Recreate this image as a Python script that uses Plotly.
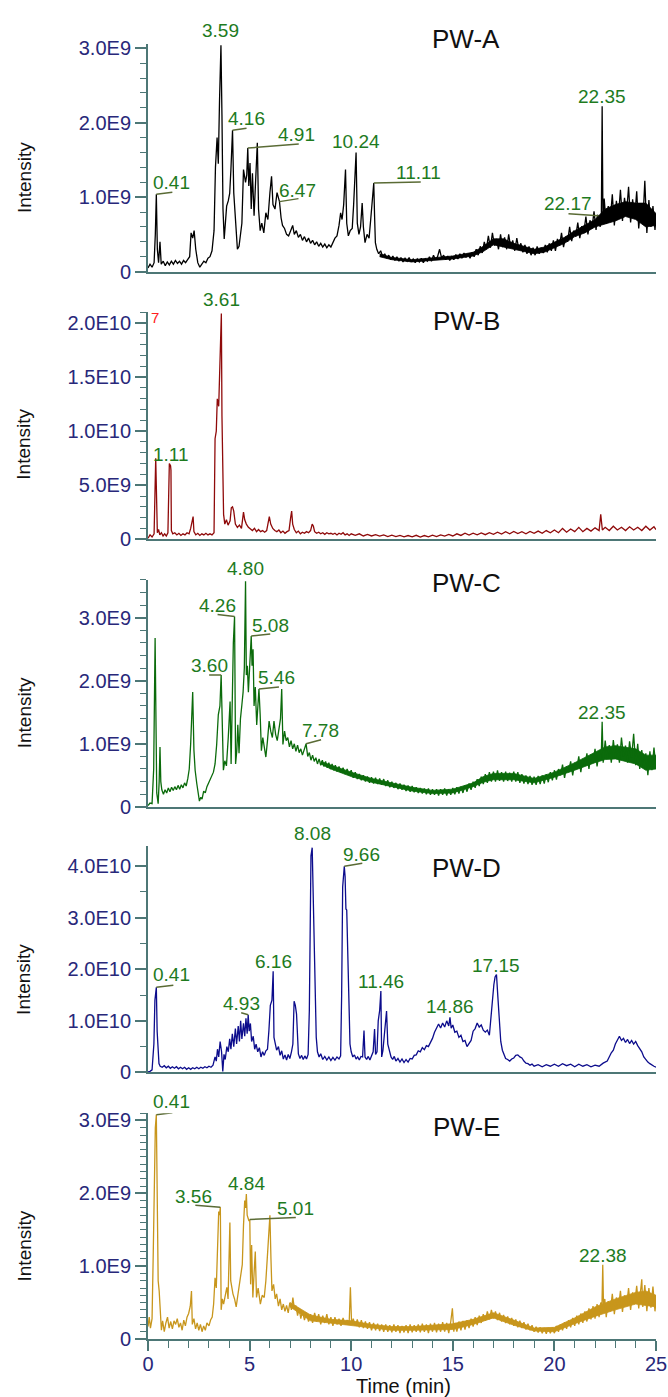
import plotly.graph_objects as go

FONT = "Liberation Sans, Arial, Helvetica, sans-serif"
AXIS_COLOR = "#4d7776"
TICK_COLOR = "#28287a"
LABEL_COLOR = "#1e7b1e"
LEADER_COLOR = "#5a6b35"

# ---------------- data (time in min, intensity in panel units) ----------------
panel_names = ["PW-A", "PW-B", "PW-C", "PW-D", "PW-E"]
panel_units = [1e9, 1e9, 1e9, 1e10, 1e9]
line_colors = ["#000000", "#8f0a0a", "#0b6b0b", "#0c0c8c", "#c8961c"]

points_A = [
    (0.00, 0.05), (0.10, 0.10), (0.20, 0.06), (0.30, 0.12), (0.36, 0.50), (0.41, 1.04), (0.46, 0.30), (0.52, 0.12),
    (0.59, 0.40), (0.65, 0.10), (0.75, 0.14), (0.85, 0.08), (0.95, 0.13), (1.05, 0.09), (1.15, 0.14), (1.25, 0.10),
    (1.35, 0.15), (1.45, 0.11), (1.55, 0.14), (1.65, 0.10), (1.75, 0.15), (1.85, 0.12), (1.95, 0.16), (2.05, 0.20),
    (2.12, 0.52), (2.20, 0.45), (2.27, 0.55), (2.35, 0.30), (2.45, 0.12), (2.55, 0.06), (2.65, 0.10), (2.75, 0.14),
    (2.85, 0.12), (2.95, 0.18), (3.05, 0.20), (3.15, 0.28), (3.25, 0.55), (3.32, 1.40), (3.40, 1.80), (3.46, 1.45),
    (3.52, 2.30), (3.59, 3.04), (3.64, 2.10), (3.69, 0.84), (3.75, 0.44), (3.80, 0.70), (3.87, 0.88), (3.95, 0.95),
    (4.02, 1.05), (4.08, 1.37), (4.16, 1.90), (4.22, 1.06), (4.28, 0.84), (4.34, 0.55), (4.40, 0.30), (4.48, 0.34),
    (4.55, 0.48), (4.62, 0.65), (4.70, 1.37), (4.80, 1.20), (4.86, 1.30), (4.91, 1.66), (4.96, 1.15), (5.02, 1.46),
    (5.08, 0.84), (5.14, 1.32), (5.22, 0.75), (5.30, 1.20), (5.38, 1.73), (5.44, 0.84), (5.52, 0.55), (5.60, 0.65),
    (5.70, 0.52), (5.80, 0.79), (5.90, 0.70), (6.00, 1.06), (6.08, 1.28), (6.15, 0.90), (6.25, 0.84), (6.35, 1.06),
    (6.47, 0.94), (6.55, 0.72), (6.62, 0.62), (6.72, 0.58), (6.82, 0.50), (6.92, 0.48), (7.02, 0.55), (7.12, 0.62),
    (7.20, 0.50), (7.30, 0.55), (7.40, 0.46), (7.50, 0.50), (7.60, 0.42), (7.70, 0.47), (7.80, 0.40), (7.90, 0.45),
    (8.00, 0.38), (8.10, 0.42), (8.20, 0.36), (8.30, 0.40), (8.40, 0.34), (8.50, 0.38), (8.60, 0.33), (8.70, 0.37),
    (8.80, 0.32), (8.90, 0.36), (9.00, 0.33), (9.10, 0.40), (9.20, 0.45), (9.30, 0.48), (9.40, 0.62), (9.48, 0.79),
    (9.55, 0.70), (9.63, 0.90), (9.72, 1.37), (9.78, 0.65), (9.86, 0.48), (9.95, 0.55), (10.05, 0.58), (10.12, 0.90),
    (10.19, 1.30), (10.24, 1.60), (10.30, 0.65), (10.38, 0.50), (10.46, 0.60), (10.54, 0.92), (10.60, 0.60), (10.68, 0.39),
    (10.78, 0.50), (10.88, 0.45), (10.96, 0.70), (11.03, 1.00), (11.11, 1.19), (11.15, 0.75), (11.19, 0.39), (11.26, 0.30),
    (11.35, 0.24), (11.45, 0.28), (11.55, 0.20), (11.65, 0.24), (11.75, 0.18), (11.85, 0.22), (11.95, 0.16), (12.05, 0.21),
    (12.15, 0.15), (12.25, 0.20), (12.35, 0.14), (12.45, 0.19), (12.55, 0.13), (12.65, 0.18), (12.75, 0.14), (12.85, 0.19),
    (12.95, 0.13), (13.05, 0.17), (13.15, 0.12), (13.25, 0.17), (13.35, 0.13), (13.45, 0.18), (13.55, 0.12), (13.65, 0.17),
    (13.75, 0.14), (13.85, 0.20), (13.95, 0.14), (14.05, 0.22), (14.15, 0.16), (14.25, 0.20), (14.35, 0.30), (14.45, 0.18),
    (14.55, 0.22), (14.65, 0.16), (14.75, 0.21), (14.85, 0.15), (14.95, 0.20), (15.05, 0.16), (15.15, 0.23), (15.25, 0.17),
    (15.35, 0.24), (15.45, 0.18), (15.55, 0.25), (15.65, 0.19), (15.75, 0.24), (15.85, 0.18), (15.95, 0.26), (16.05, 0.20),
    (16.15, 0.30), (16.25, 0.22), (16.35, 0.34), (16.45, 0.25), (16.55, 0.40), (16.65, 0.30), (16.75, 0.48), (16.85, 0.32),
    (16.95, 0.52), (17.05, 0.35), (17.15, 0.44), (17.25, 0.30), (17.35, 0.50), (17.45, 0.33), (17.55, 0.46), (17.65, 0.30),
    (17.75, 0.50), (17.85, 0.32), (17.95, 0.42), (18.05, 0.28), (18.15, 0.45), (18.25, 0.30), (18.35, 0.38), (18.45, 0.26),
    (18.55, 0.36), (18.65, 0.24), (18.75, 0.34), (18.85, 0.22), (18.95, 0.32), (19.05, 0.22), (19.15, 0.34), (19.25, 0.24),
    (19.35, 0.32), (19.45, 0.25), (19.55, 0.36), (19.65, 0.26), (19.75, 0.38), (19.85, 0.28), (19.95, 0.42), (20.05, 0.28),
    (20.15, 0.44), (20.25, 0.35), (20.35, 0.52), (20.45, 0.33), (20.55, 0.47), (20.65, 0.40), (20.75, 0.60), (20.85, 0.41),
    (20.95, 0.55), (21.05, 0.47), (21.15, 0.66), (21.25, 0.45), (21.35, 0.61), (21.45, 0.53), (21.55, 0.74), (21.65, 0.50),
    (21.75, 0.69), (21.85, 0.58), (21.95, 0.81), (22.05, 0.56), (22.12, 0.76), (22.17, 0.75), (22.25, 0.60), (22.31, 0.72),
    (22.35, 2.22), (22.39, 0.66), (22.45, 0.98), (22.55, 0.64), (22.65, 0.88), (22.75, 0.70), (22.85, 1.04), (22.95, 0.62),
    (23.05, 0.95), (23.15, 0.74), (23.25, 1.10), (23.35, 0.68), (23.45, 0.99), (23.55, 0.78), (23.65, 1.14), (23.75, 0.66),
    (23.85, 0.97), (23.95, 0.72), (24.05, 1.08), (24.15, 0.58), (24.25, 0.90), (24.35, 0.64), (24.45, 1.22), (24.55, 0.52),
    (24.65, 0.96), (24.75, 0.60), (24.85, 0.88), (24.95, 0.56), (25.00, 0.72),
]

points_B = [
    (0.00, 0.10), (0.10, 0.40), (0.20, 0.20), (0.30, 0.50), (0.34, 4.00), (0.38, 7.50), (0.42, 4.00), (0.46, 0.60),
    (0.52, 0.90), (0.58, 0.40), (0.66, 0.60), (0.74, 0.30), (0.82, 0.50), (0.90, 0.30), (0.98, 0.60), (1.02, 5.50),
    (1.05, 7.00), (1.11, 6.80), (1.13, 6.40), (1.15, 0.80), (1.22, 0.50), (1.32, 0.60), (1.42, 0.40), (1.52, 0.55),
    (1.62, 0.35), (1.72, 0.50), (1.82, 0.40), (1.92, 0.60), (2.02, 0.50), (2.10, 1.00), (2.15, 1.40), (2.22, 2.10),
    (2.26, 0.70), (2.35, 0.40), (2.45, 0.55), (2.55, 0.35), (2.65, 0.50), (2.75, 0.40), (2.85, 0.55), (2.95, 0.40),
    (3.05, 0.50), (3.15, 0.40), (3.25, 0.60), (3.30, 9.30), (3.36, 10.0), (3.41, 13.0), (3.48, 12.3), (3.55, 17.0),
    (3.61, 20.9), (3.64, 11.4), (3.68, 3.80), (3.72, 2.30), (3.78, 1.40), (3.86, 1.80), (3.94, 1.30), (4.04, 1.70),
    (4.10, 2.90), (4.16, 3.00), (4.22, 2.60), (4.30, 1.40), (4.40, 1.10), (4.50, 1.30), (4.60, 1.00), (4.70, 2.50),
    (4.76, 1.80), (4.84, 1.40), (4.94, 1.10), (5.04, 0.90), (5.14, 0.80), (5.24, 1.00), (5.34, 0.70), (5.44, 0.90),
    (5.54, 0.70), (5.64, 0.80), (5.74, 0.65), (5.84, 0.80), (5.92, 1.50), (5.97, 2.10), (6.04, 1.40), (6.14, 1.00),
    (6.24, 0.80), (6.34, 0.70), (6.44, 0.85), (6.54, 0.60), (6.64, 0.75), (6.74, 0.55), (6.84, 0.70), (6.94, 0.80),
    (7.02, 2.00), (7.07, 2.60), (7.12, 1.40), (7.20, 0.90), (7.30, 0.60), (7.40, 0.75), (7.50, 0.50), (7.60, 0.65),
    (7.70, 0.55), (7.80, 0.70), (7.90, 0.60), (8.00, 0.80), (8.08, 1.40), (8.14, 1.20), (8.20, 0.70), (8.30, 0.55),
    (8.40, 0.65), (8.50, 0.50), (8.60, 0.60), (8.70, 0.45), (8.80, 0.60), (8.90, 0.50), (9.00, 0.55), (9.10, 0.45),
    (9.20, 0.55), (9.30, 0.40), (9.40, 0.55), (9.50, 0.45), (9.60, 0.60), (9.70, 0.40), (9.80, 0.50), (9.90, 0.35),
    (10.0, 0.50), (10.2, 0.35), (10.4, 0.50), (10.6, 0.30), (10.8, 0.45), (11.0, 0.30), (11.2, 0.42), (11.4, 0.28),
    (11.6, 0.40), (11.8, 0.25), (12.0, 0.38), (12.2, 0.25), (12.4, 0.36), (12.6, 0.22), (12.8, 0.34), (13.0, 0.22),
    (13.2, 0.36), (13.4, 0.20), (13.6, 0.34), (13.8, 0.22), (14.0, 0.38), (14.2, 0.25), (14.4, 0.40), (14.6, 0.28),
    (14.8, 0.45), (15.0, 0.30), (15.2, 0.50), (15.4, 0.35), (15.6, 0.55), (15.8, 0.38), (16.0, 0.55), (16.2, 0.40),
    (16.4, 0.58), (16.6, 0.42), (16.8, 0.60), (17.0, 0.45), (17.2, 0.65), (17.4, 0.48), (17.6, 0.70), (17.8, 0.50),
    (18.0, 0.72), (18.2, 0.52), (18.4, 0.70), (18.6, 0.50), (18.8, 0.72), (19.0, 0.55), (19.2, 0.75), (19.4, 0.55),
    (19.6, 0.80), (19.8, 0.60), (20.0, 0.85), (20.2, 0.60), (20.4, 1.00), (20.6, 0.65), (20.8, 0.95), (21.0, 0.70),
    (21.2, 1.10), (21.4, 0.70), (21.6, 1.00), (21.8, 0.75), (22.0, 1.05), (22.2, 0.80), (22.28, 2.30), (22.36, 0.85),
    (22.5, 1.10), (22.7, 0.80), (22.9, 1.20), (23.1, 0.85), (23.3, 1.10), (23.5, 0.80), (23.7, 1.15), (23.9, 0.85),
    (24.1, 1.10), (24.3, 0.80), (24.5, 1.20), (24.7, 0.85), (24.9, 1.15), (25.0, 0.90),
]

points_C = [
    (0.00, 0.02), (0.10, 0.06), (0.20, 0.05), (0.28, 0.60), (0.35, 2.68), (0.40, 1.00), (0.43, 0.22), (0.50, 0.05),
    (0.55, 0.40), (0.59, 0.95), (0.63, 0.40), (0.68, 0.27), (0.76, 0.20), (0.84, 0.27), (0.92, 0.22), (1.00, 0.30),
    (1.08, 0.24), (1.16, 0.31), (1.24, 0.26), (1.32, 0.32), (1.40, 0.27), (1.48, 0.34), (1.56, 0.28), (1.64, 0.35),
    (1.72, 0.30), (1.80, 0.38), (1.88, 0.33), (1.96, 0.45), (2.03, 0.60), (2.10, 1.00), (2.20, 1.82), (2.26, 0.90),
    (2.32, 0.58), (2.40, 0.37), (2.48, 0.20), (2.53, 0.09), (2.60, 0.15), (2.66, 0.12), (2.74, 0.25), (2.82, 0.22),
    (2.90, 0.32), (2.98, 0.38), (3.06, 0.42), (3.14, 0.50), (3.22, 0.55), (3.30, 0.68), (3.38, 0.99), (3.46, 1.46),
    (3.54, 1.60), (3.60, 2.09), (3.65, 1.20), (3.71, 0.58), (3.78, 0.73), (3.86, 0.65), (3.95, 1.10), (4.04, 1.67),
    (4.09, 0.68), (4.13, 1.50), (4.20, 2.60), (4.26, 3.02), (4.31, 0.68), (4.37, 0.89), (4.42, 1.30), (4.48, 0.85),
    (4.55, 1.40), (4.62, 1.62), (4.68, 1.82), (4.74, 2.20), (4.80, 3.58), (4.84, 2.09), (4.89, 2.24), (4.94, 1.82),
    (5.00, 2.30), (5.04, 2.50), (5.08, 2.71), (5.12, 2.24), (5.17, 2.50), (5.22, 1.60), (5.28, 1.90), (5.35, 1.30),
    (5.40, 1.60), (5.46, 1.87), (5.52, 1.46), (5.58, 0.89), (5.65, 1.10), (5.72, 0.95), (5.80, 0.79), (5.88, 1.05),
    (5.96, 1.36), (6.04, 1.20), (6.12, 1.10), (6.20, 1.36), (6.28, 1.15), (6.36, 1.05), (6.44, 1.25), (6.52, 1.40),
    (6.58, 1.87), (6.64, 0.99), (6.72, 1.20), (6.80, 1.05), (6.88, 1.10), (6.96, 0.95), (7.04, 1.05), (7.12, 0.92),
    (7.20, 1.00), (7.28, 0.88), (7.36, 0.98), (7.44, 0.86), (7.52, 0.92), (7.60, 0.82), (7.68, 0.90), (7.78, 1.00),
    (7.86, 0.80), (7.94, 0.86), (8.02, 0.74), (8.10, 0.82), (8.18, 0.72), (8.26, 0.78), (8.34, 0.68), (8.42, 0.76),
    (8.50, 0.66), (8.58, 0.74), (8.66, 0.64), (8.74, 0.72), (8.82, 0.62), (8.90, 0.70), (8.98, 0.60), (9.06, 0.68),
    (9.14, 0.58), (9.22, 0.66), (9.30, 0.56), (9.40, 0.64), (9.50, 0.54), (9.60, 0.62), (9.70, 0.52), (9.80, 0.60),
    (9.90, 0.50), (10.0, 0.58), (10.1, 0.46), (10.2, 0.55), (10.3, 0.44), (10.4, 0.52), (10.5, 0.42), (10.6, 0.50),
    (10.7, 0.40), (10.8, 0.48), (10.9, 0.38), (11.0, 0.47), (11.1, 0.37), (11.2, 0.46), (11.3, 0.36), (11.4, 0.45),
    (11.5, 0.35), (11.6, 0.44), (11.7, 0.33), (11.8, 0.42), (11.9, 0.31), (12.0, 0.40), (12.1, 0.30), (12.2, 0.38),
    (12.3, 0.28), (12.4, 0.37), (12.5, 0.27), (12.6, 0.35), (12.7, 0.25), (12.8, 0.34), (12.9, 0.24), (13.0, 0.33),
    (13.1, 0.23), (13.2, 0.31), (13.3, 0.22), (13.4, 0.30), (13.5, 0.21), (13.6, 0.29), (13.7, 0.20), (13.8, 0.29),
    (13.9, 0.19), (14.0, 0.28), (14.1, 0.19), (14.2, 0.28), (14.3, 0.18), (14.4, 0.28), (14.5, 0.19), (14.6, 0.29),
    (14.7, 0.18), (14.8, 0.28), (14.9, 0.19), (15.0, 0.30), (15.1, 0.20), (15.2, 0.31), (15.3, 0.21), (15.4, 0.32),
    (15.5, 0.22), (15.6, 0.34), (15.7, 0.24), (15.8, 0.37), (15.9, 0.27), (16.0, 0.40), (16.1, 0.30), (16.2, 0.44),
    (16.3, 0.33), (16.4, 0.48), (16.5, 0.36), (16.6, 0.52), (16.7, 0.38), (16.8, 0.55), (16.9, 0.40), (17.0, 0.56),
    (17.1, 0.40), (17.2, 0.58), (17.3, 0.41), (17.4, 0.55), (17.5, 0.40), (17.6, 0.56), (17.7, 0.41), (17.8, 0.54),
    (17.9, 0.40), (18.0, 0.56), (18.1, 0.40), (18.2, 0.55), (18.3, 0.38), (18.4, 0.52), (18.5, 0.37), (18.6, 0.50),
    (18.7, 0.36), (18.8, 0.49), (18.9, 0.35), (19.0, 0.48), (19.1, 0.35), (19.2, 0.49), (19.3, 0.36), (19.4, 0.50),
    (19.5, 0.37), (19.6, 0.52), (19.7, 0.39), (19.8, 0.55), (19.9, 0.42), (20.0, 0.58), (20.1, 0.43), (20.2, 0.60),
    (20.3, 0.50), (20.4, 0.67), (20.5, 0.46), (20.6, 0.64), (20.7, 0.55), (20.8, 0.72), (20.9, 0.50), (21.0, 0.70),
    (21.1, 0.60), (21.2, 0.80), (21.3, 0.55), (21.4, 0.76), (21.5, 0.65), (21.6, 0.85), (21.7, 0.60), (21.8, 0.83),
    (21.9, 0.70), (22.0, 0.92), (22.1, 0.64), (22.2, 0.88), (22.3, 0.74), (22.35, 1.35), (22.4, 0.70), (22.5, 1.05),
    (22.6, 0.76), (22.7, 0.98), (22.8, 0.70), (22.9, 1.06), (23.0, 0.78), (23.1, 0.99), (23.2, 0.70), (23.3, 1.10),
    (23.4, 0.80), (23.5, 0.97), (23.6, 0.70), (23.7, 1.04), (23.8, 0.78), (23.9, 1.16), (24.0, 0.66), (24.1, 1.00),
    (24.2, 0.60), (24.3, 0.90), (24.4, 0.62), (24.5, 0.85), (24.6, 0.50), (24.7, 0.88), (24.8, 0.58), (24.9, 0.94),
    (25.0, 0.62),
]

points_D = [
    (0.00, 0.01), (0.10, 0.02), (0.20, 0.05), (0.29, 0.55), (0.34, 1.40), (0.41, 1.65), (0.45, 0.80), (0.49, 0.43),
    (0.54, 0.17), (0.60, 0.12), (0.70, 0.10), (0.80, 0.13), (0.90, 0.09), (1.00, 0.12), (1.10, 0.08), (1.20, 0.11),
    (1.30, 0.08), (1.40, 0.11), (1.50, 0.07), (1.60, 0.10), (1.70, 0.07), (1.80, 0.10), (1.90, 0.06), (2.00, 0.09),
    (2.10, 0.06), (2.20, 0.09), (2.30, 0.07), (2.40, 0.10), (2.50, 0.07), (2.60, 0.10), (2.70, 0.08), (2.80, 0.11),
    (2.90, 0.09), (3.00, 0.12), (3.10, 0.10), (3.20, 0.14), (3.30, 0.30), (3.36, 0.22), (3.42, 0.45), (3.48, 0.30),
    (3.55, 0.60), (3.62, 0.40), (3.68, 0.02), (3.74, 0.35), (3.80, 0.25), (3.88, 0.50), (3.95, 0.40), (4.02, 0.65),
    (4.08, 0.45), (4.15, 0.75), (4.22, 0.50), (4.30, 0.85), (4.36, 0.55), (4.44, 0.90), (4.50, 0.60), (4.56, 1.00),
    (4.62, 0.65), (4.70, 0.95), (4.76, 0.70), (4.82, 1.05), (4.88, 0.75), (4.93, 1.12), (4.98, 0.80), (5.04, 0.95),
    (5.10, 0.60), (5.18, 0.70), (5.25, 0.45), (5.32, 0.55), (5.40, 0.40), (5.48, 0.48), (5.56, 0.30), (5.64, 0.40),
    (5.72, 0.33), (5.80, 0.42), (5.88, 0.45), (5.95, 0.81), (6.02, 1.30), (6.10, 1.40), (6.16, 1.96), (6.20, 0.68),
    (6.26, 0.55), (6.33, 0.43), (6.42, 0.50), (6.50, 0.33), (6.58, 0.42), (6.66, 0.26), (6.74, 0.34), (6.82, 0.24),
    (6.90, 0.35), (6.98, 0.27), (7.06, 0.40), (7.13, 0.55), (7.19, 1.38), (7.25, 1.30), (7.31, 1.13), (7.36, 0.60),
    (7.40, 0.36), (7.48, 0.27), (7.56, 0.33), (7.64, 0.25), (7.72, 0.32), (7.80, 0.26), (7.88, 0.35), (7.94, 1.20),
    (7.98, 2.47), (8.02, 4.20), (8.08, 4.36), (8.12, 3.40), (8.16, 3.10), (8.20, 2.15), (8.24, 1.40), (8.28, 0.68),
    (8.34, 0.40), (8.42, 0.30), (8.50, 0.36), (8.60, 0.25), (8.70, 0.31), (8.80, 0.24), (8.90, 0.30), (9.00, 0.23),
    (9.10, 0.29), (9.20, 0.24), (9.30, 0.30), (9.40, 0.26), (9.48, 0.32), (9.53, 1.50), (9.58, 3.60), (9.62, 3.90),
    (9.66, 4.00), (9.70, 3.80), (9.74, 3.17), (9.78, 3.15), (9.84, 2.09), (9.90, 1.00), (9.94, 0.55), (10.00, 0.40),
    (10.08, 0.30), (10.16, 0.34), (10.24, 0.26), (10.32, 0.30), (10.40, 0.24), (10.48, 0.31), (10.56, 0.30), (10.63, 0.81),
    (10.68, 0.30), (10.76, 0.25), (10.84, 0.31), (10.92, 0.24), (11.00, 0.32), (11.08, 0.40), (11.15, 0.84), (11.20, 0.35),
    (11.27, 0.40), (11.33, 1.00), (11.40, 1.20), (11.46, 1.58), (11.50, 0.30), (11.56, 0.42), (11.62, 0.68), (11.68, 0.90),
    (11.74, 1.19), (11.80, 0.55), (11.88, 0.40), (11.96, 0.30), (12.04, 0.25), (12.12, 0.31), (12.20, 0.22), (12.30, 0.27),
    (12.40, 0.20), (12.50, 0.26), (12.60, 0.19), (12.70, 0.25), (12.80, 0.20), (12.90, 0.27), (13.00, 0.26), (13.10, 0.33),
    (13.20, 0.34), (13.30, 0.42), (13.40, 0.40), (13.50, 0.48), (13.60, 0.44), (13.70, 0.52), (13.80, 0.50), (13.90, 0.58),
    (14.00, 0.66), (14.10, 0.78), (14.20, 0.85), (14.30, 0.94), (14.40, 0.86), (14.50, 0.96), (14.60, 0.88), (14.70, 1.00),
    (14.80, 0.90), (14.86, 1.07), (14.92, 0.86), (15.00, 0.92), (15.10, 0.78), (15.20, 0.80), (15.30, 0.68), (15.40, 0.72),
    (15.50, 0.60), (15.60, 0.62), (15.70, 0.50), (15.80, 0.55), (15.90, 0.62), (16.00, 0.80), (16.10, 0.85), (16.20, 0.96),
    (16.30, 0.88), (16.40, 0.92), (16.50, 0.82), (16.60, 0.78), (16.70, 0.82), (16.80, 0.72), (16.90, 1.20), (16.96, 1.58),
    (17.02, 1.70), (17.08, 1.85), (17.15, 1.90), (17.22, 1.45), (17.30, 0.90), (17.36, 0.60), (17.44, 0.43), (17.52, 0.33),
    (17.60, 0.27), (17.70, 0.25), (17.80, 0.22), (17.90, 0.26), (18.00, 0.28), (18.10, 0.33), (18.20, 0.34), (18.30, 0.30),
    (18.40, 0.28), (18.50, 0.22), (18.60, 0.18), (18.70, 0.17), (18.80, 0.14), (18.90, 0.16), (19.00, 0.12), (19.20, 0.15),
    (19.40, 0.11), (19.60, 0.15), (19.80, 0.12), (20.00, 0.16), (20.20, 0.12), (20.40, 0.17), (20.60, 0.13), (20.80, 0.16),
    (21.00, 0.11), (21.20, 0.16), (21.40, 0.12), (21.60, 0.15), (21.80, 0.11), (22.00, 0.14), (22.20, 0.12), (22.40, 0.18),
    (22.60, 0.22), (22.80, 0.38), (22.90, 0.43), (23.00, 0.55), (23.10, 0.62), (23.20, 0.70), (23.30, 0.62), (23.40, 0.66),
    (23.50, 0.58), (23.60, 0.64), (23.70, 0.56), (23.80, 0.62), (23.90, 0.55), (24.00, 0.60), (24.10, 0.52), (24.20, 0.46),
    (24.30, 0.40), (24.40, 0.30), (24.50, 0.24), (24.60, 0.20), (24.70, 0.17), (24.80, 0.14), (24.90, 0.12), (25.00, 0.10),
]

points_E = [
    (0.00, 0.17), (0.06, 0.30), (0.12, 0.15), (0.20, 0.28), (0.26, 1.20), (0.30, 2.10), (0.36, 2.90), (0.41, 3.08),
    (0.44, 2.00), (0.47, 1.20), (0.50, 0.80), (0.55, 0.66), (0.60, 0.30), (0.66, 0.12), (0.72, 0.25), (0.80, 0.10),
    (0.88, 0.22), (0.96, 0.30), (1.04, 0.15), (1.12, 0.24), (1.20, 0.14), (1.28, 0.25), (1.36, 0.20), (1.44, 0.28),
    (1.52, 0.16), (1.60, 0.22), (1.68, 0.12), (1.76, 0.26), (1.84, 0.18), (1.92, 0.30), (2.00, 0.35), (2.08, 0.45),
    (2.14, 0.66), (2.18, 0.20), (2.26, 0.28), (2.34, 0.14), (2.42, 0.22), (2.50, 0.12), (2.58, 0.20), (2.66, 0.10),
    (2.74, 0.18), (2.82, 0.12), (2.90, 0.22), (3.00, 0.18), (3.08, 0.26), (3.16, 0.30), (3.23, 0.48), (3.30, 0.84),
    (3.36, 0.70), (3.42, 1.11), (3.48, 1.75), (3.52, 1.70), (3.56, 1.81), (3.60, 0.40), (3.66, 0.55), (3.72, 0.48),
    (3.80, 0.60), (3.88, 0.71), (3.94, 0.55), (3.98, 1.00), (4.03, 1.60), (4.07, 0.80), (4.12, 0.71), (4.18, 0.62),
    (4.26, 0.55), (4.34, 0.44), (4.42, 0.60), (4.50, 0.75), (4.58, 0.90), (4.64, 1.02), (4.70, 1.56), (4.76, 1.90),
    (4.80, 1.80), (4.84, 1.99), (4.88, 1.70), (4.92, 1.65), (4.97, 1.62), (5.01, 1.64), (5.05, 0.75), (5.10, 1.29),
    (5.16, 0.57), (5.22, 0.90), (5.28, 1.20), (5.34, 0.57), (5.42, 0.70), (5.53, 0.48), (5.62, 0.60), (5.72, 0.57),
    (5.80, 0.80), (5.87, 1.11), (5.94, 1.40), (6.00, 1.70), (6.05, 1.11), (6.10, 0.66), (6.18, 0.75), (6.26, 0.55),
    (6.33, 0.62), (6.42, 0.45), (6.50, 0.55), (6.58, 0.40), (6.66, 0.48), (6.74, 0.38), (6.82, 0.46), (6.90, 0.36),
    (6.98, 0.50), (7.06, 0.40), (7.13, 0.57), (7.20, 0.42), (7.28, 0.46), (7.36, 0.32), (7.44, 0.42), (7.52, 0.28),
    (7.60, 0.38), (7.70, 0.26), (7.80, 0.36), (7.90, 0.24), (8.00, 0.34), (8.10, 0.22), (8.20, 0.36), (8.30, 0.24),
    (8.40, 0.34), (8.50, 0.20), (8.60, 0.32), (8.70, 0.22), (8.80, 0.34), (8.90, 0.20), (9.00, 0.30), (9.10, 0.18),
    (9.20, 0.30), (9.30, 0.20), (9.40, 0.28), (9.50, 0.18), (9.60, 0.29), (9.70, 0.20), (9.80, 0.26), (9.90, 0.22),
    (9.96, 0.71), (10.02, 0.20), (10.10, 0.28), (10.20, 0.18), (10.30, 0.27), (10.40, 0.16), (10.50, 0.26), (10.60, 0.15),
    (10.70, 0.24), (10.80, 0.14), (10.90, 0.23), (11.00, 0.12), (11.10, 0.22), (11.20, 0.12), (11.30, 0.21), (11.40, 0.11),
    (11.50, 0.20), (11.60, 0.10), (11.70, 0.20), (11.80, 0.10), (11.90, 0.19), (12.00, 0.09), (12.10, 0.20), (12.20, 0.10),
    (12.30, 0.19), (12.40, 0.08), (12.50, 0.18), (12.60, 0.09), (12.70, 0.19), (12.80, 0.08), (12.90, 0.20), (13.00, 0.09),
    (13.10, 0.19), (13.20, 0.10), (13.30, 0.20), (13.40, 0.09), (13.50, 0.21), (13.60, 0.10), (13.70, 0.20), (13.80, 0.08),
    (13.90, 0.21), (14.00, 0.10), (14.10, 0.22), (14.20, 0.09), (14.30, 0.21), (14.40, 0.10), (14.50, 0.23), (14.60, 0.10),
    (14.70, 0.22), (14.80, 0.08), (14.90, 0.24), (14.98, 0.42), (15.05, 0.10), (15.10, 0.22), (15.20, 0.10), (15.30, 0.24),
    (15.40, 0.12), (15.50, 0.25), (15.60, 0.13), (15.70, 0.26), (15.80, 0.15), (15.90, 0.28), (16.00, 0.17), (16.10, 0.30),
    (16.20, 0.19), (16.30, 0.32), (16.40, 0.22), (16.50, 0.34), (16.60, 0.25), (16.70, 0.38), (16.80, 0.27), (16.90, 0.40),
    (17.00, 0.28), (17.10, 0.38), (17.20, 0.26), (17.30, 0.36), (17.40, 0.24), (17.50, 0.33), (17.60, 0.22), (17.70, 0.31),
    (17.80, 0.20), (17.90, 0.29), (18.00, 0.18), (18.10, 0.27), (18.20, 0.16), (18.30, 0.25), (18.40, 0.15), (18.50, 0.23),
    (18.60, 0.13), (18.70, 0.21), (18.80, 0.12), (18.90, 0.19), (19.00, 0.10), (19.10, 0.17), (19.20, 0.09), (19.30, 0.16),
    (19.40, 0.08), (19.50, 0.15), (19.60, 0.07), (19.70, 0.15), (19.80, 0.08), (19.90, 0.16), (20.00, 0.08), (20.10, 0.18),
    (20.20, 0.10), (20.30, 0.20), (20.40, 0.12), (20.50, 0.23), (20.60, 0.14), (20.70, 0.26), (20.80, 0.16), (20.90, 0.29),
    (21.00, 0.18), (21.10, 0.32), (21.20, 0.20), (21.30, 0.35), (21.40, 0.22), (21.50, 0.38), (21.60, 0.24), (21.70, 0.42),
    (21.80, 0.27), (21.90, 0.45), (22.00, 0.28), (22.10, 0.48), (22.20, 0.30), (22.28, 0.50), (22.34, 0.45), (22.38, 1.02),
    (22.42, 0.40), (22.48, 0.55), (22.55, 0.30), (22.65, 0.52), (22.75, 0.38), (22.85, 0.62), (22.95, 0.34), (23.05, 0.57),
    (23.15, 0.42), (23.25, 0.66), (23.35, 0.37), (23.45, 0.60), (23.55, 0.45), (23.65, 0.70), (23.75, 0.40), (23.85, 0.64),
    (23.95, 0.48), (24.05, 0.73), (24.15, 0.42), (24.25, 0.68), (24.30, 0.82), (24.35, 0.44), (24.45, 0.74), (24.55, 0.38),
    (24.65, 0.70), (24.75, 0.43), (24.85, 0.72), (24.95, 0.38), (25.00, 0.52),
]

# dense-noise bands (time, lower, upper), panel units
band_A = [
    (11.4, 0.20, 0.24), (12.0, 0.16, 0.19), (13.0, 0.13, 0.16), (14.0, 0.15, 0.19), (15.0, 0.17, 0.21),
    (16.0, 0.21, 0.26), (16.5, 0.27, 0.34), (17.0, 0.36, 0.44), (17.5, 0.34, 0.44), (18.0, 0.30, 0.38),
    (18.5, 0.27, 0.34), (19.0, 0.24, 0.30), (19.5, 0.26, 0.33), (20.0, 0.32, 0.40), (20.5, 0.38, 0.46),
    (21.0, 0.47, 0.55), (21.5, 0.52, 0.62), (22.0, 0.60, 0.70), (22.5, 0.64, 0.84), (23.0, 0.68, 0.90),
    (23.5, 0.74, 0.94), (24.0, 0.70, 0.92), (24.5, 0.60, 0.92), (25.0, 0.62, 0.78),
]
band_C = [
    (8.5, 0.68, 0.72), (9.0, 0.60, 0.66), (10.0, 0.48, 0.55), (11.0, 0.39, 0.45), (12.0, 0.32, 0.38),
    (13.0, 0.25, 0.31), (14.0, 0.21, 0.26), (15.0, 0.22, 0.28), (16.0, 0.32, 0.38), (16.5, 0.39, 0.48),
    (17.0, 0.43, 0.53), (18.0, 0.43, 0.53), (19.0, 0.38, 0.45), (20.0, 0.47, 0.55), (21.0, 0.58, 0.70),
    (22.0, 0.70, 0.86), (22.5, 0.75, 0.95), (23.0, 0.76, 0.97), (24.0, 0.68, 0.92), (24.5, 0.58, 0.82),
    (25.0, 0.60, 0.82),
]
band_E = [
    (7.0, 0.44, 0.50), (8.0, 0.25, 0.33), (9.0, 0.21, 0.27), (10.0, 0.19, 0.25), (11.0, 0.15, 0.20),
    (12.0, 0.12, 0.17), (13.0, 0.12, 0.17), (14.0, 0.12, 0.19), (15.0, 0.13, 0.21), (16.0, 0.20, 0.27),
    (17.0, 0.29, 0.36), (18.0, 0.19, 0.26), (19.0, 0.11, 0.15), (20.0, 0.10, 0.16), (21.0, 0.21, 0.29),
    (22.0, 0.31, 0.44), (22.5, 0.36, 0.50), (23.0, 0.40, 0.55), (24.0, 0.48, 0.64), (24.5, 0.46, 0.66),
    (25.0, 0.44, 0.60),
]

# peak labels (retention times) per panel
peak_labels_A = ["0.41", "3.59", "4.16", "4.91", "6.47", "10.24", "11.11", "22.17", "22.35"]
peak_labels_B = ["1.11", "3.61"]
peak_labels_C = ["3.60", "4.26", "4.80", "5.08", "5.46", "7.78", "22.35"]
peak_labels_D = ["0.41", "4.93", "6.16", "8.08", "9.66", "11.46", "14.86", "17.15"]
peak_labels_E = ["0.41", "3.56", "4.84", "5.01", "22.38"]

# y-axis ticks per panel
ytick_vals = [[0, 1, 2, 3], [0, 5, 10, 15, 20], [0, 1, 2, 3], [0, 1, 2, 3, 4], [0, 1, 2, 3]]
ytick_text = [["0", "1.0E9", "2.0E9", "3.0E9"],
              ["0", "5.0E9", "1.0E10", "1.5E10", "2.0E10"],
              ["0", "1.0E9", "2.0E9", "3.0E9"],
              ["0", "1.0E10", "2.0E10", "3.0E10", "4.0E10"],
              ["0", "1.0E9", "2.0E9", "3.0E9"]]
xtick_vals = [0, 5, 10, 15, 20, 25]
xtick_text = ["0", "5", "10", "15", "20", "25"]

# ---------------- layout / style (page pixels) ----------------
W, H = 668, 1397
AX_L, AX_R, AX_B = 148, 656, 1339          # px of plot area left, right, bottom
ML = AX_L
MR = W - AX_R
MT = 0
MB = H - AX_B
PH = H - MT - MB
PW = AX_R - AX_L
panel_px = [(37, 266), (307, 535), (576, 804), (843, 1071), (1112, 1339)]
y_top = [3.06, 21.0, 3.60, 4.40, 3.10]           # axis top, panel units
minor_dtick = [0.2, 1.0, 0.2, 0.5, 0.1]          # panel units
title_py = [32, 316, 579, 866, 1126]
intensity_py = [172, 440, 710, 978, 1246]
# label style: (text dx, text gap above peak, leader dx, leader dy) in px
label_style = [
    [(15, 4, 16, 2), (0, 7, None, None), (14, 4, 14, 2), (49, 6, 51, 4), (18, 4, 19, 3),
     (0, 3, None, None), (45, 3, 47, 1), (-30, 5, -30, 2), (0, 2, None, None)],
    [(0, 4, None, None), (0, 6, None, None)],
    [(-12, 2, -12, 0), (-17, 4, -17, 2), (0, 5, None, None), (19, 3, 19, 2), (18, 4, 20, 2),
     (14, 6, 15, 4), (0, 2, None, None)],
    [(15, 5, 17, 2), (-7, 4, -7, 2), (0, 2, None, None), (0, 7, None, None), (17, 4, 18, 3),
     (0, 2, None, None), (0, 3, None, None), (0, 1, None, None)],
    [(15, 6, 16, 2), (-27, 3, -25, 2), (0, 3, None, None), (46, 4, 46, 2), (0, 2, None, None)],
]

all_points = [points_A, points_B, points_C, points_D, points_E]
all_bands = [band_A, None, band_C, None, band_E]
all_labels = [peak_labels_A, peak_labels_B, peak_labels_C, peak_labels_D, peak_labels_E]


def py2paper(py):
    return (AX_B - py) / PH


def px2paper(px):
    return (px - AX_L) / PW


fig = go.Figure()
layout = dict(
    width=W, height=H, margin=dict(l=ML, r=MR, t=MT, b=MB, pad=0),
    paper_bgcolor="white", plot_bgcolor="white", showlegend=False,
    font=dict(family=FONT),
)

for i in range(5):
    n = i + 1
    xs = "" if n == 1 else str(n)
    xname, yname = "xaxis" + xs, "yaxis" + xs
    xr, yr = "x" + xs, "y" + xs
    unit = panel_units[i]
    pts = all_points[i]
    band = all_bands[i]
    if band is not None:
        bx = [b[0] for b in band] + [b[0] for b in band][::-1]
        by = [b[2] * unit for b in band] + [b[1] * unit for b in band][::-1]
        fig.add_trace(go.Scatter(x=bx, y=by, mode="lines", fill="toself", fillcolor=line_colors[i],
                                 line=dict(color=line_colors[i], width=0.8), xaxis=xr, yaxis=yr,
                                 hoverinfo="skip"))
    t_vals = [p[0] for p in pts]
    i_vals = [p[1] * unit for p in pts]
    fig.add_trace(go.Scatter(x=t_vals, y=i_vals, mode="lines", xaxis=xr, yaxis=yr,
                             line=dict(color=line_colors[i], width=1.3), hoverinfo="skip"))
    top_px, bot_px = panel_px[i]
    dom = [py2paper(bot_px), py2paper(top_px)]
    last = (i == 4)
    layout[xname] = dict(
        domain=[0, 1], anchor=yr, range=[0, 25], showline=True, linecolor=AXIS_COLOR, linewidth=2,
        showgrid=False, zeroline=False, fixedrange=True,
        showticklabels=last, ticks="outside" if last else "",
        tickmode="array", tickvals=xtick_vals, ticktext=xtick_text,
        ticklen=10, tickwidth=1.5, tickcolor=AXIS_COLOR,
        tickfont=dict(family=FONT, size=20, color=TICK_COLOR),
    )
    if last:
        layout[xname]["ticklabelstandoff"] = -4
        layout[xname]["minor"] = dict(tickmode="linear", tick0=0, dtick=1, ticks="outside",
                                      ticklen=7, tickwidth=1.2, tickcolor=AXIS_COLOR, showgrid=False)
    layout[yname] = dict(
        domain=dom, anchor=xr, range=[0, y_top[i] * unit], showline=True, linecolor=AXIS_COLOR,
        linewidth=2, showgrid=False, zeroline=False, fixedrange=True,
        tickmode="array", tickvals=[v * unit for v in ytick_vals[i]], ticktext=ytick_text[i],
        ticks="outside", ticklen=11, tickwidth=1.5, tickcolor=AXIS_COLOR,
        tickfont=dict(family=FONT, size=20, color=TICK_COLOR),
        minor=dict(tickmode="linear", tick0=0, dtick=minor_dtick[i] * unit, ticks="outside",
                   ticklen=6, tickwidth=1.2, tickcolor=AXIS_COLOR, showgrid=False),
    )
    # panel title
    fig.add_annotation(xref="paper", yref="paper", x=px2paper(466), y=py2paper(title_py[i]),
                       text=panel_names[i], showarrow=False, xanchor="center", yanchor="middle",
                       font=dict(family=FONT, size=26, color="#111111"))
    # y title
    fig.add_annotation(xref="paper", yref="paper", x=px2paper(24), y=py2paper(intensity_py[i]),
                       text="Intensity", showarrow=False, textangle=-90, xanchor="center", yanchor="middle",
                       font=dict(family=FONT, size=19, color="#111111"))
    # peak labels
    lookup = {p[0]: p[1] for p in pts}
    for txt, (tdx, gap, ldx, ldy) in zip(all_labels[i], label_style[i]):
        t = float(txt)
        h = lookup[t] * unit
        fig.add_annotation(x=t, y=h, xref=xr, yref=yr, text=txt, showarrow=False,
                           xanchor="center", yanchor="bottom", xshift=tdx, yshift=gap - 4, borderpad=0,
                           font=dict(family=FONT, size=19, color=LABEL_COLOR))
        if ldx is not None:
            fig.add_shape(type="line", xref=xr, yref=yr, xsizemode="pixel", ysizemode="pixel",
                          xanchor=t, yanchor=h, x0=0, x1=ldx, y0=0, y1=ldy,
                          line=dict(color=LEADER_COLOR, width=1.5))

# small red marker glyph at top of PW-B axis
fig.add_annotation(xref="paper", yref="paper", x=px2paper(149), y=py2paper(312),
                   text="7", showarrow=False, xanchor="left", yanchor="middle",
                   font=dict(family=FONT, size=15, color="#ff2020"))
# x title
fig.add_annotation(xref="paper", yref="paper", x=px2paper(403), y=py2paper(1386),
                   text="Time (min)", showarrow=False, xanchor="center", yanchor="middle",
                   font=dict(family=FONT, size=20, color="#111111"))

fig.update_layout(**layout)
# remove the browser's default 8px page margin so the figure fills the window exactly
fig.write_html("out.html", config={"displayModeBar": False},
               post_script="document.body.style.margin='0';document.body.style.overflow='hidden';")
